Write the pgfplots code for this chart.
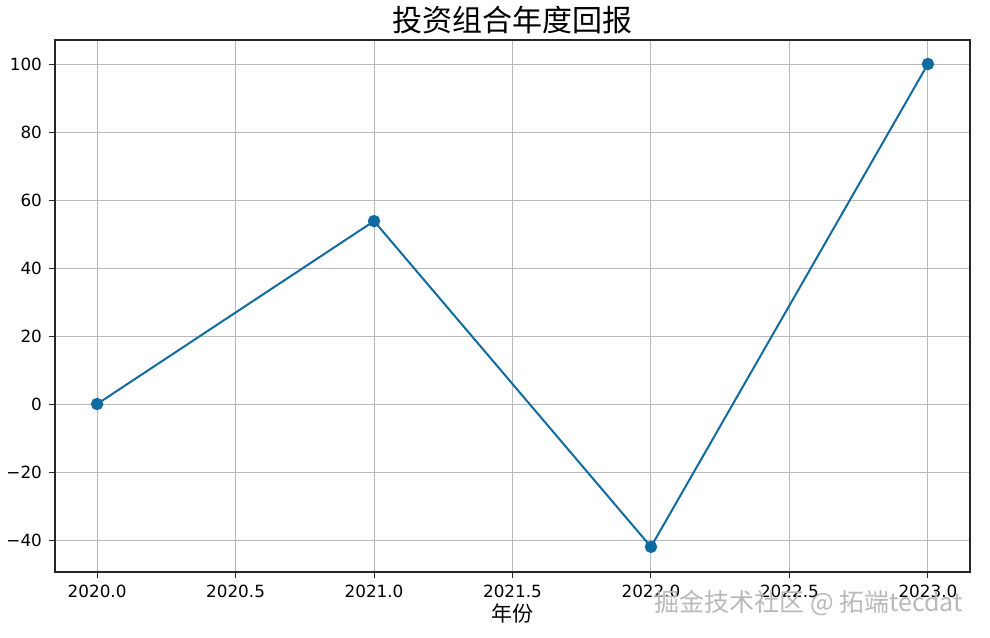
\documentclass[border=0pt]{standalone}
\usepackage{fontspec}
\setmainfont{DejaVu Sans}
\newfontfamily\cjk{Noto Sans CJK SC}
\usepackage{pgfplots}
\pgfplotsset{compat=1.18}
\definecolor{lineblue}{HTML}{106CA0}
\begin{document}
\begin{tikzpicture}[x=0.5pt,y=0.5pt]
\path[use as bounding box] (0,0) rectangle (990,637);
\begin{axis}[
  at={(27.5pt,32.5pt)}, anchor=south west,
  scale only axis, width=457.5pt, height=266pt,
  xmin=2019.848, xmax=2023.152,
  ymin=-49.4, ymax=107.06,
  xtick={2020,2020.5,2021,2021.5,2022,2022.5,2023},
  xticklabels={2020.0,2020.5,2021.0,2021.5,2022.0,2022.5,2023.0},
  ytick={-40,-20,0,20,40,60,80,100},
  yticklabels={−40,−20,0,20,40,60,80,100},
  tick label style={font=\fontsize{8.4pt}{10pt}\selectfont},
  grid=major,
  grid style={gray!55, line width=0.5pt},
  axis line style={black!85, line width=0.6pt},
  tick align=outside,
  major tick length=3pt,
  tick style={black!85, line width=0.5pt},
  xtick pos=bottom, ytick pos=left,
  /pgf/number format/assume math mode=true,
]
\addplot[color=lineblue, line width=1pt, mark=*, mark size=2.6pt, mark options={fill=lineblue, draw=lineblue}]
  coordinates {(2020,0) (2021,53.8) (2022,-42) (2023,100)};
\end{axis}
\node[font=\cjk\fontsize{15pt}{18pt}\selectfont] at (512,617) {投资组合年度回报};
\node[font=\cjk\fontsize{10.5pt}{12pt}\selectfont] at (512,24) {年份};
\node[font=\cjk\fontsize{12.5pt}{14pt}\selectfont, text=gray!55, anchor=east] at (970,34) {掘金技术社区 @ 拓端tecdat};
\end{tikzpicture}
\end{document}
